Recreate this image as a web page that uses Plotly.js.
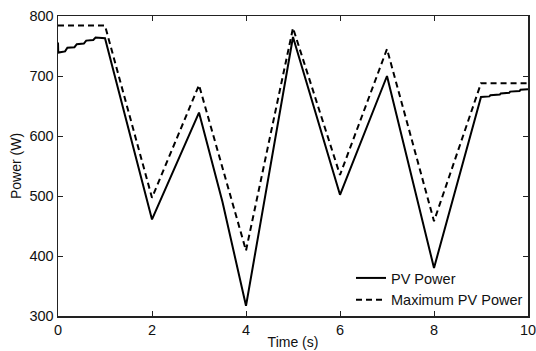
<!DOCTYPE html>
<html>
<head>
<meta charset="utf-8">
<script src="https://cdn.plot.ly/plotly-3.0.1.min.js"></script>
<style>html,body{margin:0;padding:0;background:#fff;}#chart{width:536px;height:351px;}</style>
</head>
<body>
<div id="chart"></div>
<script>
// PV Power (solid)
var pvTime = [0, 0.005, 0.15, 0.2, 0.35, 0.4, 0.55, 0.6, 0.75, 0.8, 1.0, 2.0, 3.0, 3.5, 4.0, 5.0, 6.0, 7.0, 8.0, 9.0, 9.18, 9.2, 9.4, 9.42, 9.6, 9.62, 9.82, 9.84, 10.0];
var pvPower = [756, 739, 741, 747, 748, 753, 754, 759, 760, 764, 763, 461, 639, 490, 317, 765, 502, 700, 380, 665, 666, 668, 669, 671, 672, 674, 675, 677, 678];
// Maximum PV Power (dashed)
var mpTime = [0, 1.0, 2.0, 3.0, 4.0, 5.0, 6.0, 7.0, 8.0, 9.0, 10.0];
var mpPower = [784, 784, 497, 685, 409, 780, 535, 745, 458, 688, 688];

var xTicks = [0, 2, 4, 6, 8, 10];
var yTicks = [300, 400, 500, 600, 700, 800];

var font = 'Liberation Sans, Arial, Helvetica, sans-serif';

var traces = [
  {x: pvTime, y: pvPower, mode: 'lines', name: 'PV Power',
   line: {color: '#000', width: 2, dash: 'solid'}},
  {x: mpTime, y: mpPower, mode: 'lines', name: 'Maximum PV Power',
   line: {color: '#000', width: 2, dash: '6px,4px'}}
];

var axisCommon = {
  showgrid: false, zeroline: false, showline: true, mirror: 'ticks',
  linecolor: '#222', linewidth: 1.5, ticks: 'inside', ticklen: 5,
  tickwidth: 1, tickcolor: '#222', ticklabeloverflow: 'allow',
  tickfont: {family: font, size: 14.5, color: '#111'}
};

var layout = {
  width: 536, height: 351,
  margin: {l: 58, r: 8, t: 16, b: 35},
  paper_bgcolor: '#fff', plot_bgcolor: '#fff',
  showlegend: true,
  legend: {x: 1, y: 0, xanchor: 'right', yanchor: 'bottom', bgcolor: 'rgba(0,0,0,0)',
           font: {family: font, size: 14.5, color: '#111'}, itemwidth: 30, tracegroupgap: 0},
  xaxis: Object.assign({}, axisCommon, {range: [0, 10], tickvals: xTicks, ticktext: xTicks.map(String),
    title: {text: 'Time (s)', font: {family: font, size: 14, color: '#111'}, standoff: 0}}),
  yaxis: Object.assign({}, axisCommon, {range: [300, 800], tickvals: yTicks, ticktext: yTicks.map(String),
    title: {text: 'Power (W)', font: {family: font, size: 14, color: '#111'}, standoff: 4}})
};

Plotly.newPlot('chart', traces, layout, {staticPlot: true, displayModeBar: false});
</script>
</body>
</html>
